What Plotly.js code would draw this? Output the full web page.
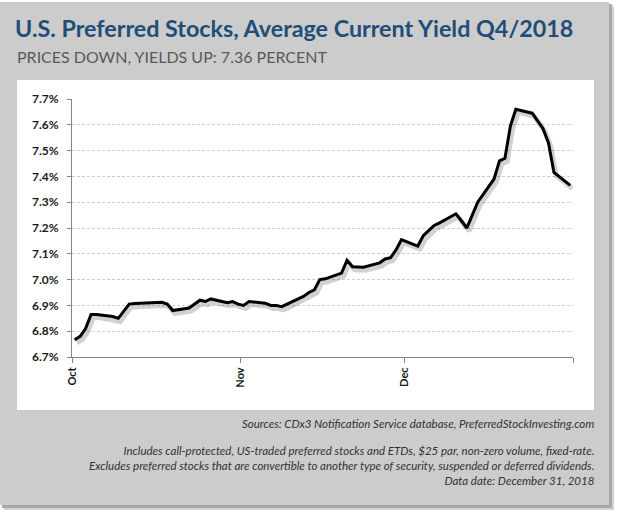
<!DOCTYPE html>
<html>
<head>
<meta charset="utf-8">
<script src="https://cdn.plot.ly/plotly-3.0.1.min.js"></script>
<style>html,body{margin:0;padding:0;background:#fff;}#chart{width:620px;height:515px;}</style>
</head>
<body>
<div id="chart"></div>
<script>
// ---- data ----
const dates = [
  '2018-10-01','2018-10-02','2018-10-03','2018-10-04','2018-10-05',
  '2018-10-08','2018-10-09','2018-10-10','2018-10-11','2018-10-12',
  '2018-10-15','2018-10-16','2018-10-17','2018-10-18','2018-10-19',
  '2018-10-22','2018-10-23','2018-10-24','2018-10-25','2018-10-26',
  '2018-10-29','2018-10-30','2018-10-31','2018-11-01','2018-11-02',
  '2018-11-05','2018-11-06','2018-11-07','2018-11-08','2018-11-09',
  '2018-11-12','2018-11-13','2018-11-14','2018-11-15','2018-11-16',
  '2018-11-19','2018-11-20','2018-11-21','2018-11-23',
  '2018-11-26','2018-11-27','2018-11-28','2018-11-29','2018-11-30',
  '2018-12-03','2018-12-04','2018-12-05','2018-12-06','2018-12-07',
  '2018-12-10','2018-12-11','2018-12-12','2018-12-13','2018-12-14',
  '2018-12-17','2018-12-18','2018-12-19','2018-12-20','2018-12-21',
  '2018-12-24','2018-12-26','2018-12-27','2018-12-28','2018-12-31'
];
const yieldPct = [
  6.767, 6.78, 6.81, 6.865, 6.865,
  6.857, 6.85, 6.88, 6.905, 6.907,
  6.91, 6.911, 6.912, 6.905, 6.88,
  6.89, 6.905, 6.92, 6.915, 6.925,
  6.91, 6.915, 6.905, 6.90, 6.915,
  6.908, 6.90, 6.90, 6.895, 6.905,
  6.935, 6.95, 6.96, 7.00, 7.003,
  7.025, 7.075, 7.05, 7.048,
  7.065, 7.08, 7.085, 7.115, 7.155,
  7.13, 7.17, 7.19, 7.21, 7.22,
  7.255, 7.228, 7.20, 7.25, 7.30,
  7.39, 7.46, 7.47, 7.595, 7.66,
  7.645, 7.585, 7.53, 7.415, 7.365
];
const monthTicks = ['2018-10-01','2018-11-01','2018-12-01','2019-01-01'];
const monthLabels = ['Oct','Nov','Dec',''];
const titleText = 'U.S. Preferred Stocks, Average Current Yield Q4/2018';
const subtitleText = 'PRICES DOWN, YIELDS UP: 7.36 PERCENT';
const footerSources = 'Sources: CDx3 Notification Service database, PreferredStockInvesting.com';
const footerNotes = [
  'Includes call-protected, US-traded preferred stocks and ETDs, $25 par, non-zero volume, fixed-rate.',
  'Excludes preferred stocks that are convertible to another type of security, suspended or deferred dividends.',
  'Data date: December 31, 2018'
];

// ---- chart ----
const DAY = 86400000;
const shadowShiftX = 0.4 * DAY;
const shadowShiftY = 0.012;
const x0 = new Date('2018-10-01T00:00:00Z').getTime();
const x1 = new Date('2019-01-01T00:00:00Z').getTime();
function iso(t){ return new Date(t).toISOString().replace('T',' ').replace('Z',''); }

const shadow = {
  x: dates, y: yieldPct, type: 'scatter', mode: 'lines',
  xaxis: 'x2', yaxis: 'y2',
  xperiod: DAY, xperiodalignment: 'middle',
  line: {color: 'rgba(0,0,0,0.18)', width: 5},
  hoverinfo: 'skip', showlegend: false
};
const main = {
  x: dates, y: yieldPct, type: 'scatter', mode: 'lines',
  xperiod: DAY, xperiodalignment: 'middle',
  line: {color: '#000000', width: 3},
  showlegend: false
};

const L = 72, R = 573, T = 99, B = 357;
const px = p => (p - L) / (R - L);
const py = q => (B - q) / (B - T);

const layout = {
  width: 620, height: 515,
  margin: {l: L, r: 620 - R, t: T, b: 515 - B, pad: 0},
  paper_bgcolor: '#ffffff',
  plot_bgcolor: 'rgba(0,0,0,0)',
  font: {family: 'Lato, sans-serif', color: '#262626'},
  title: {
    text: titleText,
    font: {family: 'Lato, sans-serif', size: 23.3, weight: 'bold', color: '#1F4E79'},
    x: 15 / 620, xanchor: 'left', xref: 'container',
    y: 1 - 29 / 515, yanchor: 'middle', yref: 'container'
  },
  xaxis: {
    type: 'date', range: [iso(x0), iso(x1)],
    tickvals: monthTicks, ticktext: monthLabels, tickangle: -90,
    ticks: 'outside', ticklen: 5, tickcolor: '#868686',
    showline: true, linecolor: '#868686', linewidth: 1,
    showgrid: false, zeroline: false,
    tickfont: {size: 11, weight: 'bold', color: '#1a1a1a'}
  },
  yaxis: {
    range: [6.7, 7.7], dtick: 0.1, tick0: 6.7,
    tickformat: '.1f', ticksuffix: '%',
    ticks: 'outside', ticklen: 4, tickcolor: '#868686',
    ticklabelstandoff: 6,
    showline: true, linecolor: '#868686', linewidth: 1,
    showgrid: true, gridcolor: '#cfcfcf', griddash: '3px,2px', gridwidth: 1,
    zeroline: false,
    tickfont: {size: 12, weight: 'bold', color: '#1a1a1a'}
  },
  xaxis2: {
    type: 'date', overlaying: 'x', visible: false,
    range: [iso(x0 - shadowShiftX), iso(x1 - shadowShiftX)]
  },
  yaxis2: {
    overlaying: 'y', visible: false,
    range: [6.7 + shadowShiftY, 7.7 + shadowShiftY]
  },
  shapes: [
    {type: 'rect', xref: 'paper', yref: 'paper', layer: 'below',
     x0: px(4), x1: px(614), y0: py(510), y1: py(6),
     fillcolor: '#b5b5b5', line: {width: 0}, opacity: 0.6},
    {type: 'rect', xref: 'paper', yref: 'paper', layer: 'below',
     x0: px(2), x1: px(612), y0: py(508), y1: py(4),
     fillcolor: '#a8a8a8', line: {width: 0}},
    {type: 'rect', xref: 'paper', yref: 'paper', layer: 'below',
     x0: px(0), x1: px(609), y0: py(505), y1: py(2),
     fillcolor: '#cccccc', line: {width: 0}},
    {type: 'rect', xref: 'paper', yref: 'paper', layer: 'below',
     x0: px(17), x1: px(594), y0: py(410), y1: py(80),
     fillcolor: '#ffffff', line: {width: 0}}
  ],
  annotations: [
    {text: subtitleText, xref: 'paper', yref: 'paper', x: px(15), y: py(57),
     xanchor: 'left', yanchor: 'middle', showarrow: false,
     font: {family: 'Lato, sans-serif', size: 16, color: '#595959'}},
    {text: footerSources, xref: 'paper', yref: 'paper', x: px(596), y: py(423),
     xanchor: 'right', yanchor: 'middle', showarrow: false,
     font: {family: 'Lato, sans-serif', size: 11.5, style: 'italic', color: '#333333'}},
    {text: footerNotes.join('<br>'), xref: 'paper', yref: 'paper', x: px(596), y: py(466),
     xanchor: 'right', yanchor: 'middle', align: 'right', showarrow: false,
     font: {family: 'Lato, sans-serif', size: 11.5, style: 'italic', color: '#333333'}}
  ]
};

Plotly.newPlot('chart', [shadow, main], layout, {displayModeBar: false, staticPlot: true});
</script>
</body>
</html>
